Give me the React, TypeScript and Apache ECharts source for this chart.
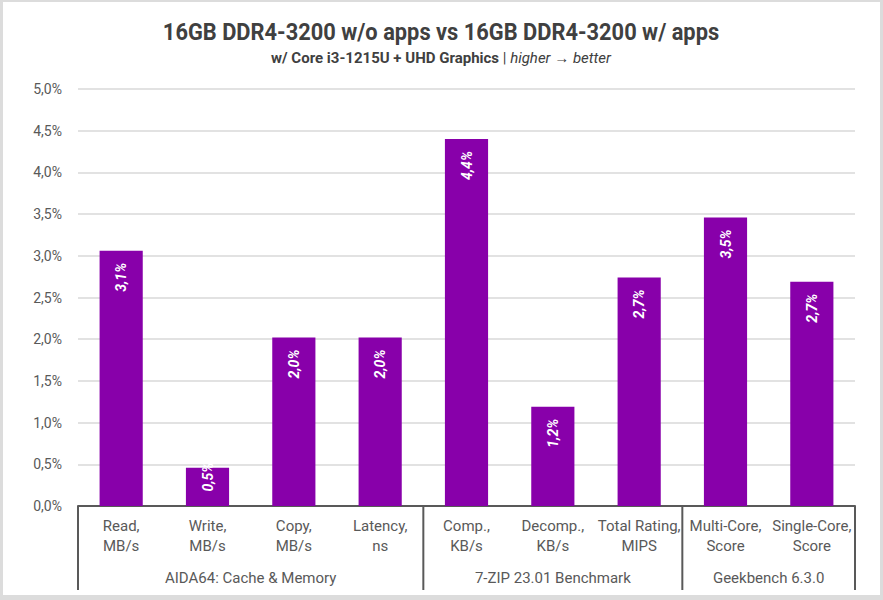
import React, { useEffect, useRef } from "react";
import * as echarts from "echarts";

const categories = [
  "Read,\nMB/s",
  "Write,\nMB/s",
  "Copy,\nMB/s",
  "Latency,\nns",
  "Comp.,\nKB/s",
  "Decomp.,\nKB/s",
  "Total Rating,\nMIPS",
  "Multi-Core,\nScore",
  "Single-Core,\nScore",
];
const values = [3.06, 0.46, 2.02, 2.02, 4.4, 1.19, 2.74, 3.46, 2.69];
const groupNames = ["AIDA64: Cache & Memory", "7-ZIP 23.01 Benchmark", "Geekbench 6.3.0"];
const groupSizes = [4, 3, 2];
const yMin = 0;
const yMax = 5;
const yStep = 0.5;

const titleText = "16GB DDR4-3200 w/o apps vs 16GB DDR4-3200 w/ apps";
const subtitleBold = "w/ Core i3-1215U + UHD Graphics";
const subtitleItalic = "higher \u2192 better";

const fmt = (v: number) => v.toFixed(1).replace(".", ",") + "%";

export default function App() {
  const ref = useRef<HTMLDivElement>(null);
  useEffect(() => {
    if (!ref.current) return;
    const chart = echarts.init(ref.current, null, { renderer: "svg" });
    const font = "Roboto";
    chart.setOption({
      animation: false,
      backgroundColor: "#ffffff",
      grid: { left: 78, right: 28, top: 89, bottom: 94, containLabel: false },
      xAxis: {
        type: "category",
        data: categories,
        axisLine: { show: true, lineStyle: { color: "#595959", width: 2 } },
        axisTick: { show: false },
        axisLabel: {
          interval: 0,
          color: "#595959",
          fontFamily: font,
          fontSize: 15,
          lineHeight: 20,
          margin: 10,
        },
      },
      yAxis: {
        type: "value",
        min: yMin,
        max: yMax,
        interval: yStep,
        axisLine: { show: false },
        axisTick: { show: false },
        splitLine: { lineStyle: { color: "#d9d9d9", width: 1.5 } },
        axisLabel: {
          color: "#595959",
          fontFamily: font,
          fontSize: 14,
          margin: 16,
          formatter: (v: number) => fmt(v),
        },
      },
      series: [
        {
          type: "bar",
          data: values.map((v, i) =>
            i === 1 ? { value: v, label: { distance: -5 } } : v
          ),
          barWidth: "50%",
          itemStyle: { color: "#8800aa" },
          label: {
            show: true,
            position: "insideTop",
            distance: 12,
            rotate: 90,
            align: "right",
            verticalAlign: "middle",
            color: "#ffffff",
            fontFamily: font,
            fontSize: 14,
            fontWeight: "bold",
            fontStyle: "italic",
            formatter: (p: any) => fmt(p.value),
          },
        },
      ],
    });

    const cx0 = chart.convertToPixel({ xAxisIndex: 0 }, 0) as number;
    const cx1 = chart.convertToPixel({ xAxisIndex: 0 }, 1) as number;
    const band = cx1 - cx0;
    const axisY = chart.convertToPixel({ yAxisIndex: 0 }, 0) as number;
    const bottomY = axisY + 84;
    const graphics: any[] = [];
    let start = 0;
    const boundaries: number[] = [cx0 - band / 2];
    groupSizes.forEach((n, gi) => {
      const left = cx0 + (start - 0.5) * band;
      const right = cx0 + (start + n - 0.5) * band;
      boundaries.push(right);
      graphics.push({
        type: "text",
        x: (left + right) / 2,
        y: axisY + 72,
        style: {
          text: groupNames[gi],
          fontFamily: font,
          fontSize: 15,
          fill: "#595959",
          textAlign: "center",
          textVerticalAlign: "middle",
        },
      });
      start += n;
    });
    boundaries.forEach((bx) => {
      graphics.push({
        type: "line",
        shape: { x1: bx, y1: axisY, x2: bx, y2: bottomY },
        style: { stroke: "#595959", lineWidth: 2 },
      });
    });
    graphics.push({
      type: "text",
      x: 441,
      y: 32,
      scaleX: 0.95,
      style: {
        text: titleText,
        fontFamily: font,
        fontSize: 23,
        fontWeight: "bold",
        fill: "#404040",
        textAlign: "center",
        textVerticalAlign: "middle",
      },
    });
    graphics.push({
      type: "text",
      x: 441,
      y: 58,
      style: {
        text: "{b|" + subtitleBold + "} {n|| }{i|" + subtitleItalic + "}",
        fontFamily: font,
        fontSize: 15,
        fill: "#404040",
        textAlign: "center",
        textVerticalAlign: "middle",
        rich: {
          b: { fontFamily: font, fontSize: 15, fontWeight: "bold", fill: "#404040" },
          n: { fontFamily: font, fontSize: 15, fill: "#404040" },
          i: { fontFamily: font, fontSize: 15, fontStyle: "italic", fill: "#404040" },
        },
      },
    });
    // page frame
    graphics.push({ type: "rect", shape: { x: 0, y: 0, width: 883, height: 2 }, style: { fill: "#dcdcdc" } });
    graphics.push({ type: "rect", shape: { x: 0, y: 0, width: 3, height: 600 }, style: { fill: "#dcdcdc" } });
    graphics.push({ type: "rect", shape: { x: 880, y: 0, width: 3, height: 600 }, style: { fill: "#dcdcdc" } });
    graphics.push({ type: "rect", shape: { x: 0, y: 595, width: 883, height: 5 }, style: { fill: "#dcdcdc" } });
    chart.setOption({ graphic: graphics });

    return () => chart.dispose();
  }, []);
  return (
    <div
      ref={ref}
      style={{ position: "fixed", left: 0, top: 0, width: 883, height: 600 }}
    />
  );
}
